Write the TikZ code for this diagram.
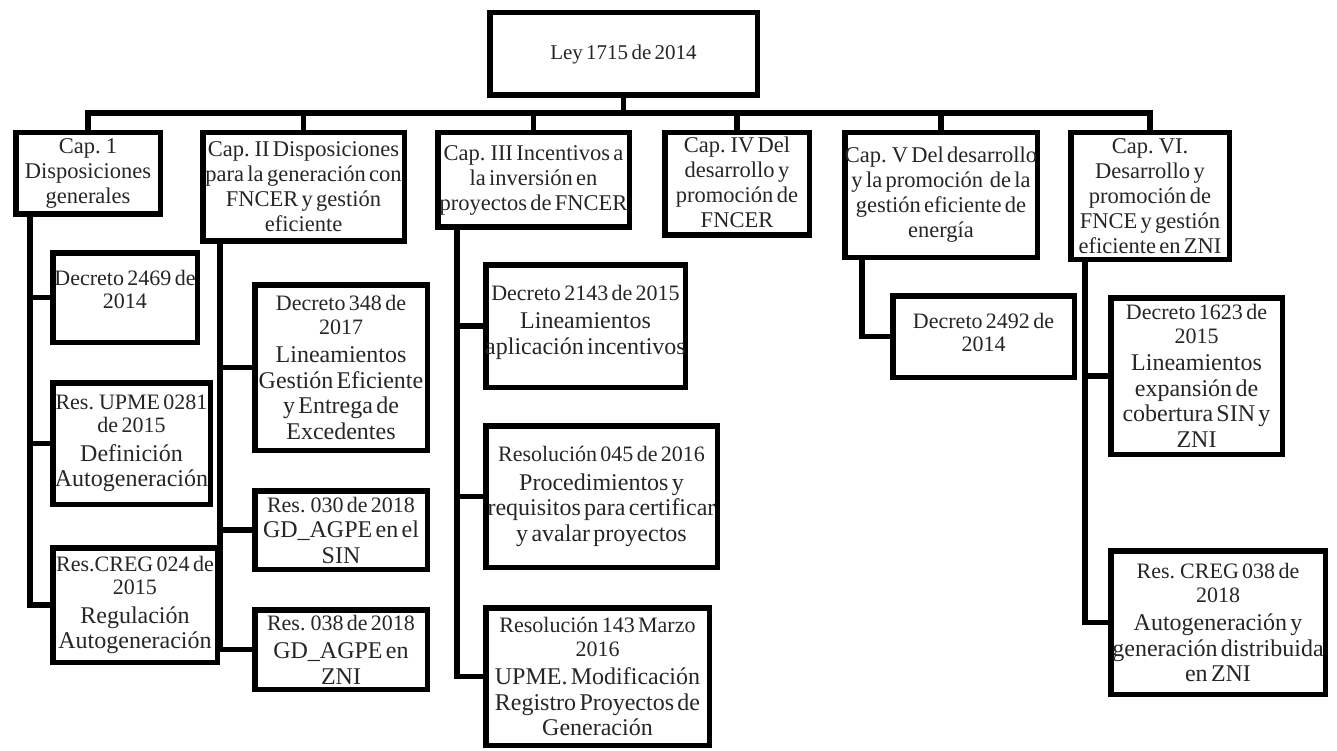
\documentclass[tikz,border=0pt]{standalone}
\usepackage{fontspec}
\setmainfont{Liberation Serif}
\newcommand{\mycap}{\fontsize{22.5}{25}\selectfont}
\newcommand{\myhd}{\fontsize{22}{23.5}\selectfont}
\newcommand{\myds}{\fontsize{24}{25.5}\selectfont}
\newcommand{\bx}[7]{%
  \pgfmathsetmacro\bxcx{(#2+#4)/2}%
  \pgfmathsetmacro\bxcy{(#3+#5)/2+#7}%
  \pgfmathsetmacro\bxw{#4-#2-5.5}%
  \pgfmathsetmacro\bxh{#5-#3-5.5}%
  \node[boxst, minimum width=\bxw pt, minimum height=\bxh pt] (#1) at ({(#2+#4)/2},{(#3+#5)/2}) {};
  \node[txt] (#1-t) at (\bxcx,\bxcy) {#6};}
\tikzset{
  boxst/.style={draw=black, line width=5.5pt, fill=white, inner sep=0pt, outer sep=0pt},
  txt/.style={text width=320pt, align=center, inner sep=0pt, text=black!85},
  conn/.style={draw=black, line width=5.5pt, line join=miter, line cap=rect}
}
\begin{document}
\begin{tikzpicture}[x=1pt,y=-1pt]
\useasboundingbox (0,0) rectangle (1337,751);
\fill[white] (0,0) rectangle (1337,751);

% top
\bx{ley}{487}{10}{760}{98}{\fontsize{21}{23}\selectfont Ley 1715 de 2014\par}{0}

% chapters
\bx{cap1}{13}{130}{163}{217}{\mycap Cap. 1\\Disposiciones\\generales\par}{0}
\bx{cap2}{200}{130}{407}{244}{\mycap Cap. II Disposiciones\\para la generación con\\FNCER y gestión\\eficiente\par}{0}
\bx{cap3}{435}{130}{632}{230}{\mycap Cap. III Incentivos a\\la inversión en\\proyectos de FNCER\par}{0}
\bx{cap4}{662}{130}{812}{238}{\mycap Cap. IV Del\\desarrollo y\\promoción de\\FNCER\par}{-2}
\bx{cap5}{842}{130}{1040}{260}{\mycap Cap. V Del desarrollo\\y la promoción~ de la\\gestión eficiente de\\energía\par}{0}
\bx{cap6}{1068}{130}{1232}{262}{\mycap Cap. VI.\\Desarrollo y\\promoción de\\FNCE y gestión\\eficiente en ZNI\par}{0}

% Cap 1 children
\bx{d2469}{50}{250}{200}{345}{\myhd Decreto 2469 de\\2014\par}{-8}
\bx{upme}{50}{380}{213}{507}{{\myhd Res. UPME 0281\\de 2015\par}\vspace{3pt}{\myds Definición\\Autogeneración\par}}{0}
\bx{creg24}{50}{545}{220}{665}{{\myhd Res.CREG 024 de\\2015\par}\vspace{3pt}{\myds Regulación\\Autogeneración\par}}{0}

% Cap 2 children
\bx{d348}{252}{282}{430}{453}{{\myhd Decreto 348 de\\2017\par}\vspace{3pt}{\myds Lineamientos\\Gestión Eficiente\\y Entrega de\\Excedentes\par}}{0}
\bx{r030}{252}{488}{430}{572}{{\myhd Res. 030 de 2018\par}{\myds GD\_AGPE en el\\SIN\par}}{0}
\bx{r038}{252}{607}{430}{692}{{\myhd Res. 038 de 2018\par}\vspace{3pt}{\myds GD\_AGPE en\\ZNI\par}}{0}

% Cap 3 children
\bx{d2143}{483}{262}{688}{390}{{\myhd Decreto 2143 de 2015\par}\vspace{3pt}{\myds Lineamientos\\aplicación incentivos\par}}{-4}
\bx{r045}{483}{423}{720}{570}{{\myhd Resolución 045 de 2016\par}\vspace{3pt}{\myds Procedimientos y\\requisitos para certificar\\y avalar proyectos\par}}{0}
\bx{r143}{483}{605}{712}{748}{{\myhd Resolución 143 Marzo\\2016\par}\vspace{3pt}{\myds UPME. Modificación\\Registro Proyectos de\\Generación\par}}{0}

% Cap 5 child
\bx{d2492}{890}{293}{1077}{380}{\myhd Decreto 2492 de\\2014\par}{-4}

% Cap 6 children
\bx{d1623}{1108}{295}{1285}{457}{{\myhd Decreto 1623 de\\2015\par}\vspace{2pt}{\myds Lineamientos\\expansión de\\cobertura SIN y\\ZNI\par}}{0}
\bx{creg38}{1108}{548}{1328}{697}{{\myhd Res. CREG 038 de\\2018\par}\vspace{3pt}{\myds Autogeneración y\\generación distribuida\\en ZNI\par}}{0}

% helper coordinates
\coordinate (bus) at (0,113);
\coordinate (v1) at (30,0);
\coordinate (v2) at (220,0);
\coordinate (v3) at (457,0);
\coordinate (v5) at (862,0);
\coordinate (v6) at (1085,0);

% bus
\draw[conn] (cap1.north) -- (cap1.north |- bus) -- (cap6.north |- bus) -- (cap6.north);
\foreach \n in {cap2,cap3,cap4,cap5} {\draw[conn] (\n.north) -- (\n.north |- bus);}
\draw[conn] (ley.south) -- (ley.south |- bus);

% branches
\foreach \c in {d2469,upme,creg24} {\draw[conn] (cap1.south -| v1) |- (\c.west);}
\foreach \c in {d348,r030,r038} {\draw[conn] (cap2.south -| v2) |- (\c.west);}
\foreach \c in {d2143,r045,r143} {\draw[conn] (cap3.south -| v3) |- (\c.west);}
\draw[conn] (cap5.south -| v5) |- (d2492.west);
\foreach \c in {d1623,creg38} {\draw[conn] (cap6.south -| v6) |- (\c.west);}
\end{tikzpicture}
\end{document}
